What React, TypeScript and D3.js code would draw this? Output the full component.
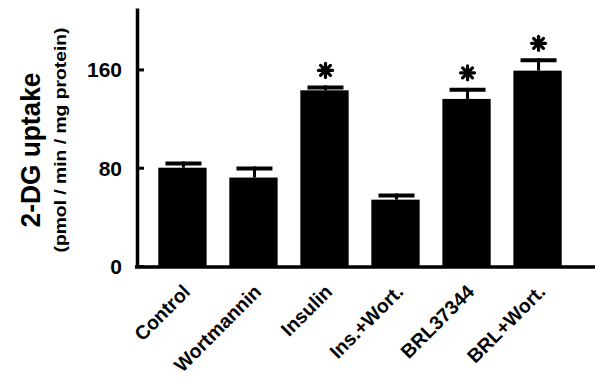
import React, { useEffect, useRef } from "react";
import * as d3 from "d3";

// 2-DG uptake per treatment (pmol/min/mg protein)
const categories = ["Control", "Wortmannin", "Insulin", "Ins.+Wort.", "BRL37344", "BRL+Wort."];
const means = [80, 72, 143, 54, 136, 159];
const sems = [5, 9, 4, 5, 9, 10];
const significant = [false, false, true, false, true, true];
const yTicks = [0, 80, 160];

const FONT = "'Liberation Sans', Arial, Helvetica, sans-serif";

const App = () => {
  const visual = useRef<SVGSVGElement>(null);

  useEffect(() => {
    const width = 595;
    const height = 382;
    const axisX = 137;
    const baseY = 266;

    const svg = d3.select(visual.current).attr("width", width).attr("height", height);
    svg.selectAll("*").remove();

    const xScale = d3
      .scaleBand()
      .domain(categories)
      .range([axisX, 583])
      .paddingInner(0.32)
      .paddingOuter(0.3);

    const yScale = d3.scaleLinear().domain([0, 210]).range([baseY, 8]);

    // bars
    svg
      .selectAll("rect.bar")
      .data(means)
      .join("rect")
      .attr("class", "bar")
      .attr("x", (d, i) => xScale(categories[i])!)
      .attr("y", d => yScale(d))
      .attr("width", xScale.bandwidth())
      .attr("height", d => baseY - yScale(d))
      .attr("fill", "#000");

    // error bars (upper only)
    const cx = (i: number) => xScale(categories[i])! + xScale.bandwidth() / 2 + 1;
    svg
      .selectAll("line.stem")
      .data(means)
      .join("line")
      .attr("x1", (d, i) => cx(i))
      .attr("x2", (d, i) => cx(i))
      .attr("y1", d => yScale(d))
      .attr("y2", (d, i) => yScale(d + sems[i]))
      .attr("stroke", "#000")
      .attr("stroke-width", 3);
    svg
      .selectAll("line.cap")
      .data(means)
      .join("line")
      .attr("x1", (d, i) => cx(i) - 18)
      .attr("x2", (d, i) => cx(i) + 18)
      .attr("y1", (d, i) => yScale(d + sems[i]) + 2)
      .attr("y2", (d, i) => yScale(d + sems[i]) + 2)
      .attr("stroke", "#000")
      .attr("stroke-width", 4);

    // significance asterisks
    const star = svg
      .selectAll("g.star")
      .data(means.map((d, i) => ({ d, i })).filter(o => significant[o.i]))
      .join("g")
      .attr("transform", o => `translate(${cx(o.i)},${yScale(o.d + sems[o.i]) - 15})`);
    [0, 45, 90, 135].forEach(a => {
      const r = 7;
      const dx = r * Math.cos((a * Math.PI) / 180);
      const dy = r * Math.sin((a * Math.PI) / 180);
      star
        .append("line")
        .attr("x1", -dx)
        .attr("y1", -dy)
        .attr("x2", dx)
        .attr("y2", dy)
        .attr("stroke", "#000")
        .attr("stroke-width", 3.2)
        .attr("stroke-linecap", "round");
    });

    // y axis
    const yAxis = d3
      .axisLeft(yScale)
      .tickValues(yTicks)
      .tickSizeInner(-7)
      .tickSizeOuter(0)
      .tickPadding(15)
      .tickFormat(d3.format("d"));
    const gy = svg.append("g").attr("transform", `translate(${axisX},0)`).call(yAxis);
    gy.select(".domain").attr("stroke-width", 3.5);
    gy.selectAll(".tick line").attr("stroke-width", 3);
    gy.selectAll(".tick text")
      .attr("font-family", FONT)
      .attr("font-weight", "bold")
      .attr("font-size", 21)
      .attr("dy", "0.36em")
      .attr("fill", "#000");

    // baseline
    svg
      .append("line")
      .attr("x1", axisX - 2)
      .attr("x2", width)
      .attr("y1", baseY + 1)
      .attr("y2", baseY + 1)
      .attr("stroke", "#000")
      .attr("stroke-width", 3.5);

    // category labels
    svg
      .selectAll("text.cat")
      .data(categories)
      .join("text")
      .attr("class", "cat")
      .attr("transform", (d, i) => `translate(${cx(i) + 8},293) rotate(-45)`)
      .attr("text-anchor", "end")
      .attr("font-family", FONT)
      .attr("font-weight", "bold")
      .attr("font-size", 19.5)
      .text(d => d);

    // y titles
    svg
      .append("text")
      .attr("transform", "translate(40,150) rotate(-90)")
      .attr("text-anchor", "middle")
      .attr("font-family", FONT)
      .attr("font-weight", "bold")
      .attr("font-size", 27)
      .attr("textLength", 155)
      .attr("lengthAdjust", "spacingAndGlyphs")
      .text("2-DG uptake");
    svg
      .append("text")
      .attr("transform", "translate(66,140) rotate(-90)")
      .attr("text-anchor", "middle")
      .attr("font-family", FONT)
      .attr("font-weight", "bold")
      .attr("font-size", 17)
      .attr("textLength", 225)
      .attr("lengthAdjust", "spacingAndGlyphs")
      .text("(pmol / min / mg protein)");
  }, []);

  return <svg ref={visual} style={{ position: "absolute", left: 0, top: 0, background: "#fff" }} />;
};

export default App;
